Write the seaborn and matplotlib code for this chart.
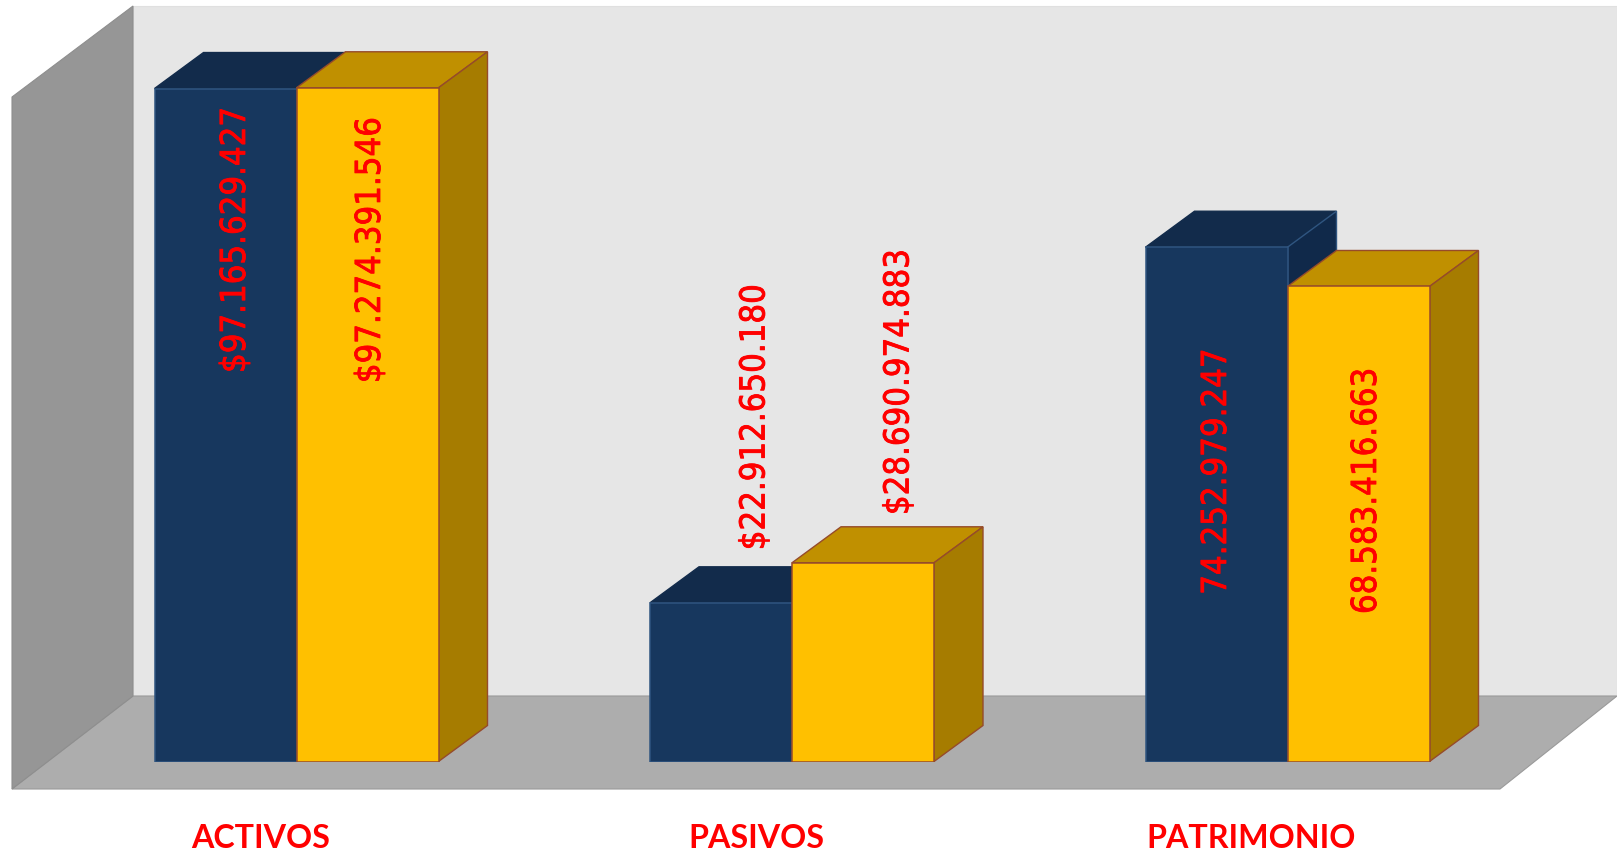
import matplotlib
matplotlib.use("Agg")
import matplotlib.pyplot as plt
import matplotlib.patheffects as pe
from matplotlib.patches import Polygon
from matplotlib.transforms import ScaledTranslation
import pandas as pd
import seaborn as sns

# ---- data ----
categories = ["ACTIVOS", "PASIVOS", "PATRIMONIO"]
series_names = ["Periodo 1", "Periodo 2"]
values_1 = [97165629427, 22912650180, 74252979247]
values_2 = [97274391546, 28690974883, 68583416663]
labels_1 = ["$97.165.629.427", "$22.912.650.180", "74.252.979.247"]
labels_2 = ["$97.274.391.546", "$28.690.974.883", "68.583.416.663"]

# ---- layout (pixels) ----
W, H = 1617, 853
BASE_Y = 762.5
PX_PER_UNIT = 6.926e-9
GROUP_PX = 495.5
FIRST_CENTER_PX = 296.5
DEPTH = (49, 36)
label_off_1 = [(10, -151), (34, 186), (0, -224)]
label_off_2 = [(3, -162), (36, 181), (8, -204)]

FRONT = ["#17375E", "#FFC000"]
TOP = ["#122B4B", "#C09000"]
SIDE = ["#10294A", "#A67C00"]
EDGE = ["#2F5580", "#964B2A"]

sns.set_theme(style="white")
plt.rcParams["font.family"] = ["Lato", "DejaVu Sans"]

fig = plt.figure(figsize=(W / 100, H / 100), dpi=100, facecolor="white")
ax = fig.add_axes([0, (H - BASE_Y) / H, 1, BASE_Y / H])
ax.patch.set_visible(False)


def px(*pts):
    return [(x / W, 1 - y / H) for x, y in pts]


def wall(pts, color, edge=None):
    fig.add_artist(Polygon(px(*pts), closed=True, transform=fig.transFigure,
                           facecolor=color, edgecolor=edge or color, lw=0.8, zorder=-1))


wall([(133, 7), (1617, 7), (1617, 697), (133, 697)], "#E6E6E6", "#E0E0E0")
wall([(133, 697), (1617, 697), (1500, 790), (12, 790)], "#ADADAD", "#9A9A9A")
wall([(12, 98), (133, 7), (133, 697), (12, 790)], "#969696", "#8E8E8E")

df = pd.DataFrame({
    "categoria": categories * 2,
    "valor": values_1 + values_2,
    "serie": [series_names[0]] * 3 + [series_names[1]] * 3,
})
sns.barplot(data=df, x="categoria", y="valor", hue="serie", hue_order=series_names,
            palette=FRONT, width=284 / GROUP_PX, gap=0, legend=False, ax=ax,
            saturation=1, zorder=3)

ax.set_xlim(-FIRST_CENTER_PX / GROUP_PX, (W - FIRST_CENTER_PX) / GROUP_PX)
ax.set_ylim(0, BASE_Y / PX_PER_UNIT)
ax.set_xlabel("")
ax.set_ylabel("")
ax.set_yticks([])
sns.despine(ax=ax, left=True, bottom=True)
ax.tick_params(axis="x", length=0, pad=44.5)
for lab in ax.get_xticklabels():
    lab.set_color("#FF0000")
    lab.set_fontweight("bold")
    lab.set_fontsize(23.2)
    lab.set_transform(lab.get_transform() + ScaledTranslation(-36 / 100, 0, fig.dpi_scale_trans))

dx = DEPTH[0] / GROUP_PX
dy = DEPTH[1] / PX_PER_UNIT
for s, (cont, labs, offs) in enumerate(zip(ax.containers, [labels_1, labels_2], [label_off_1, label_off_2])):
    for bar, text, off in zip(cont, labs, offs):
        x0, x1 = bar.get_x(), bar.get_x() + bar.get_width()
        h = bar.get_height()
        bar.set_edgecolor(EDGE[s])
        bar.set_linewidth(1.1)
        ax.add_patch(Polygon([(x0, h), (x1, h), (x1 + dx, h + dy), (x0 + dx, h + dy)],
                             facecolor=TOP[s], edgecolor=EDGE[s] if s else TOP[s], lw=1.0,
                             zorder=2 + s * 0.5, clip_on=False))
        ax.add_patch(Polygon([(x1, 0), (x1 + dx, dy), (x1 + dx, h + dy), (x1, h)],
                             facecolor=SIDE[s], edgecolor=EDGE[s], lw=1.0,
                             zorder=2 + s * 0.5, clip_on=False))
        ann = ax.annotate(text, xy=((x0 + x1) / 2, h), xytext=off, textcoords="offset pixels",
                          rotation=90, ha="center", va="center", color="#FF0000",
                          fontsize=24.8, family="DejaVu Sans", stretch="condensed",
                          zorder=5, annotation_clip=False)
        ann.set_path_effects([pe.withStroke(linewidth=0.6, foreground="#FF0000")])

fig.savefig("out.png", dpi=100, facecolor="white")
